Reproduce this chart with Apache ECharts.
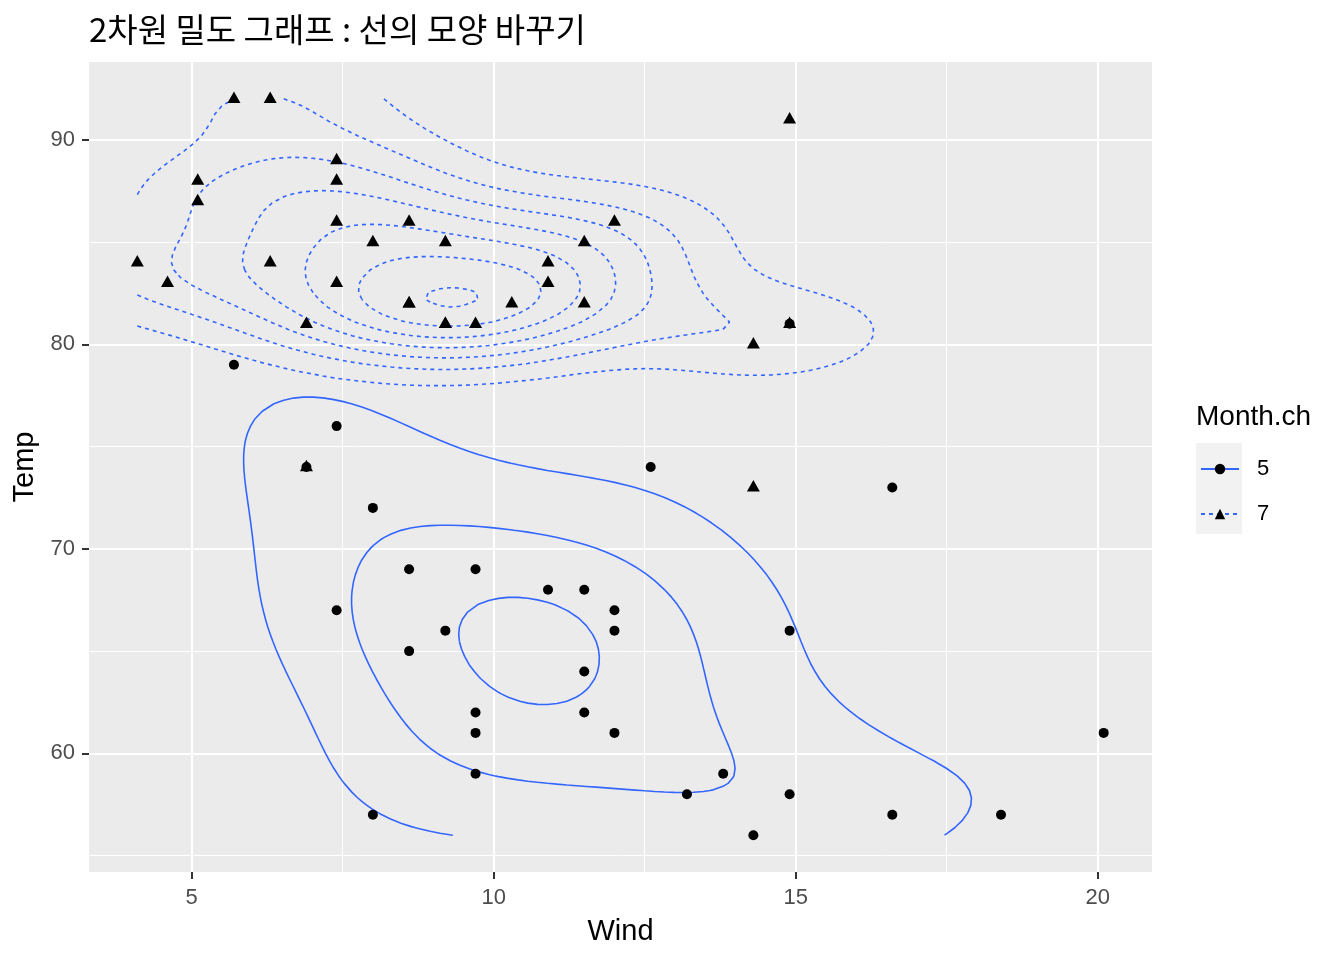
<!DOCTYPE html>
<html><head><meta charset="utf-8">
<script src="https://cdn.jsdelivr.net/npm/echarts@6/dist/echarts.min.js"></script>
<style>html,body{margin:0;padding:0;background:#fff}#c{width:1344px;height:960px}</style>
</head><body><div id="c"></div>
<script>
// airquality: Month 5 and Month 7
const mayWind = [7.4, 8.0, 12.6, 11.5, 14.3, 14.9, 8.6, 13.8, 20.1, 8.6, 6.9, 9.7, 9.2, 10.9, 13.2, 11.5, 12.0, 18.4, 11.5, 9.7, 9.7, 16.6, 9.7, 12.0, 16.6, 14.9, 8.0, 12.0, 14.9, 5.7, 7.4];
const mayTemp = [67, 72, 74, 62, 56, 66, 65, 59, 61, 69, 74, 69, 66, 68, 58, 64, 66, 57, 68, 62, 59, 73, 61, 61, 57, 58, 57, 67, 81, 79, 76];
const julWind = [4.1, 9.2, 9.2, 10.9, 4.6, 10.9, 5.1, 6.3, 5.7, 7.4, 8.6, 14.3, 14.9, 14.9, 14.3, 6.9, 10.3, 6.3, 5.1, 11.5, 6.9, 9.7, 11.5, 8.6, 8.0, 8.6, 12.0, 7.4, 7.4, 7.4, 9.2];
const julTemp = [84, 85, 81, 84, 83, 83, 88, 92, 92, 89, 82, 73, 81, 91, 80, 81, 82, 84, 87, 85, 74, 81, 82, 86, 85, 82, 86, 88, 86, 83, 81];
const groupNames = ['5', '7'];
const xTicks = [5, 10, 15, 20];
const yTicks = [60, 70, 80, 90];
const xMinor = [7.5, 12.5, 17.5];
const yMinor = [55, 65, 75, 85];
const titleText = '2차원 밀도 그래프 : 선의 모양 바꾸기';
const legendTitle = 'Month.ch';

// ---- 2D kernel density (as MASS::kde2d with bandwidth.nrd, used by stat_density_2d) ----
function quantile7(arr, p) {
  const s = arr.slice().sort((a, b) => a - b);
  const h = (s.length - 1) * p, lo = Math.floor(h);
  const hi = Math.min(lo + 1, s.length - 1);
  return s[lo] + (h - lo) * (s[hi] - s[lo]);
}
function sd(a) {
  const m = a.reduce((s, v) => s + v, 0) / a.length;
  return Math.sqrt(a.reduce((s, v) => s + (v - m) * (v - m), 0) / (a.length - 1));
}
function bwNrd(x) {
  const h = (quantile7(x, 0.75) - quantile7(x, 0.25)) / 1.34;
  return 4 * 1.06 * Math.min(sd(x), h) * Math.pow(x.length, -0.2);
}
function kde2d(x, y, lims, n) {
  const h1 = bwNrd(x) / 4, h2 = bwNrd(y) / 4;
  const gx = [], gy = [];
  for (let i = 0; i < n; i++) {
    gx.push(lims[0] + (lims[1] - lims[0]) * i / (n - 1));
    gy.push(lims[2] + (lims[3] - lims[2]) * i / (n - 1));
  }
  const N = x.length, c = 1 / Math.sqrt(2 * Math.PI);
  const ax = gx.map(g => x.map(v => c * Math.exp(-0.5 * ((g - v) / h1) ** 2)));
  const ay = gy.map(g => y.map(v => c * Math.exp(-0.5 * ((g - v) / h2) ** 2)));
  const z = [];
  for (let i = 0; i < n; i++) {
    const row = [];
    for (let j = 0; j < n; j++) {
      let s = 0;
      for (let k = 0; k < N; k++) s += ax[i][k] * ay[j][k];
      row.push(s / (N * h1 * h2));
    }
    z.push(row);
  }
  return { gx, gy, z };
}
function rPretty(lo, up, ndiv) {
  const h = 1.5, h5 = 0.5 + 1.5 * h, eps = 1e-10;
  const cell = (up - lo) / ndiv;
  const base = Math.pow(10, Math.floor(Math.log10(cell)));
  let unit = base, ns;
  if ((ns = 2 * base) - cell < h * (cell - unit)) {
    unit = ns;
    if ((ns = 5 * base) - cell < h5 * (cell - unit)) {
      unit = ns;
      if ((ns = 10 * base) - cell < h * (cell - unit)) unit = ns;
    }
  }
  let a = Math.floor(lo / unit + eps), b = Math.ceil(up / unit - eps);
  while (a * unit > lo + eps * unit) a--;
  while (b * unit < up - eps * unit) b++;
  const out = [];
  for (let k = a; k <= b; k++) out.push(k * unit);
  return out;
}
function isolines(gx, gy, z, L) {
  const n = gx.length, m = gy.length;
  const pts = {}, adj = {}, segs = [];
  function edge(t, i, j) {
    const key = t + ',' + i + ',' + j;
    if (!(key in pts)) {
      const i2 = t === 'H' ? i + 1 : i, j2 = t === 'H' ? j : j + 1;
      const v1 = z[i][j], v2 = z[i2][j2];
      const f = (L - v1) / (v2 - v1);
      pts[key] = [gx[i] + (gx[i2] - gx[i]) * f, gy[j] + (gy[j2] - gy[j]) * f];
      adj[key] = [];
    }
    return key;
  }
  function add(k1, k2) { const id = segs.length; segs.push([k1, k2]); adj[k1].push(id); adj[k2].push(id); }
  for (let i = 0; i < n - 1; i++) for (let j = 0; j < m - 1; j++) {
    const a = z[i][j], b = z[i + 1][j], c = z[i + 1][j + 1], d = z[i][j + 1];
    const A = a >= L, B = b >= L, C = c >= L, D = d >= L;
    const idx = (A ? 1 : 0) | (B ? 2 : 0) | (C ? 4 : 0) | (D ? 8 : 0);
    if (idx === 0 || idx === 15) continue;
    const eB = () => edge('H', i, j), eR = () => edge('V', i + 1, j), eT = () => edge('H', i, j + 1), eL = () => edge('V', i, j);
    if (idx === 5 || idx === 10) {
      const cen = (a + b + c + d) / 4 >= L;
      if (idx === 5) { if (cen) { add(eB(), eR()); add(eT(), eL()); } else { add(eB(), eL()); add(eR(), eT()); } }
      else { if (cen) { add(eL(), eB()); add(eR(), eT()); } else { add(eB(), eR()); add(eT(), eL()); } }
      continue;
    }
    const cr = [];
    if (A !== B) cr.push(eB());
    if (B !== C) cr.push(eR());
    if (C !== D) cr.push(eT());
    if (D !== A) cr.push(eL());
    if (cr.length === 2) add(cr[0], cr[1]);
  }
  const used = new Array(segs.length).fill(false), chains = [];
  function walk(s, key) {
    const chain = [pts[key]];
    while (s !== undefined && !used[s]) {
      used[s] = true;
      const other = segs[s][0] === key ? segs[s][1] : segs[s][0];
      chain.push(pts[other]);
      key = other;
      s = adj[key].find(t => !used[t]);
    }
    return chain;
  }
  for (const key in adj) if (adj[key].length === 1 && !used[adj[key][0]]) chains.push(walk(adj[key][0], key));
  for (let s = 0; s < segs.length; s++) if (!used[s]) chains.push(walk(s, segs[s][0]));
  return chains;
}

const allWind = mayWind.concat(julWind), allTemp = mayTemp.concat(julTemp);
const lims = [Math.min(...allWind), Math.max(...allWind), Math.min(...allTemp), Math.max(...allTemp)];
const dens = [kde2d(mayWind, mayTemp, lims, 100), kde2d(julWind, julTemp, lims, 100)];
let zmin = Infinity, zmax = -Infinity;
dens.forEach(d => d.z.forEach(r => r.forEach(v => { if (v < zmin) zmin = v; if (v > zmax) zmax = v; })));
const breaks = rPretty(zmin, zmax, 10);

const contourSeries = [];
dens.forEach((d, gi) => {
  breaks.forEach(L => {
    isolines(d.gx, d.gy, d.z, L).forEach(ch => {
      contourSeries.push({
        type: 'line', name: groupNames[gi], data: ch, showSymbol: false,
        symbol: gi === 0 ? 'circle' : 'triangle', symbolSize: 9,
        lineStyle: { color: '#3366FF', width: 1.6, type: gi === 0 ? 'solid' : [4, 4] },
        itemStyle: { color: '#000000' }, z: 2, silent: true, animation: false
      });
    });
  });
});

const gridMarks = [];
xTicks.forEach(v => gridMarks.push({ xAxis: v, lineStyle: { width: 2 } }));
xMinor.forEach(v => gridMarks.push({ xAxis: v, lineStyle: { width: 1 } }));
yTicks.forEach(v => gridMarks.push({ yAxis: v, lineStyle: { width: 2 } }));
yMinor.forEach(v => gridMarks.push({ yAxis: v, lineStyle: { width: 1 } }));

const font = 'Liberation Sans, Arial, sans-serif';
const chart = echarts.init(document.getElementById('c'), null, { renderer: 'canvas' });
chart.setOption({
  animation: false,
  backgroundColor: '#FFFFFF',
  title: [
    { text: titleText, left: 89, top: 13, padding: 0, textStyle: { fontFamily: 'Noto Sans CJK KR', fontSize: 33, fontWeight: 'normal', color: '#000', lineHeight: 33 } },
    { text: legendTitle, left: 1196, top: 403, padding: 0, textStyle: { fontFamily: font, fontSize: 28, fontWeight: 'normal', color: '#000', lineHeight: 28 } }
  ],
  graphic: [{ type: 'rect', z: 0, shape: { x: 1196, y: 443, width: 46, height: 91 }, style: { fill: '#F2F2F2' } }],
  legend: {
    data: groupNames, orient: 'vertical', left: 1200, top: 458, padding: 0,
    itemWidth: 38, itemHeight: 13, itemGap: 23,
    itemStyle: { color: '#000000' },
    lineStyle: { width: 2 },
    textStyle: { fontFamily: font, fontSize: 22, color: '#000', padding: [0, 0, 0, 13] },
    selectedMode: false
  },
  grid: { left: 89, right: 192, top: 62, bottom: 88, show: true, backgroundColor: '#EBEBEB', borderWidth: 0 },
  xAxis: {
    type: 'value', min: 3.3, max: 20.9,
    splitLine: { show: false }, axisLine: { show: false },
    axisTick: { show: true, customValues: xTicks, length: 7, lineStyle: { color: '#333333', width: 2 } },
    axisLabel: { customValues: xTicks, fontFamily: font, fontSize: 22, color: '#4D4D4D', margin: 15 },
    name: 'Wind', nameLocation: 'middle', nameGap: 45,
    nameTextStyle: { fontFamily: font, fontSize: 29, color: '#000' }
  },
  yAxis: {
    type: 'value', min: 54.2, max: 93.8,
    splitLine: { show: false }, axisLine: { show: false },
    axisTick: { show: true, customValues: yTicks, length: 7, lineStyle: { color: '#333333', width: 2 } },
    axisLabel: { customValues: yTicks, fontFamily: font, fontSize: 22, color: '#4D4D4D', margin: 14 },
    name: 'Temp', nameLocation: 'middle', nameGap: 44,
    nameTextStyle: { fontFamily: font, fontSize: 29, color: '#000' }
  },
  series: [
    {
      type: 'scatter', name: 'pts5', data: mayWind.map((w, i) => [w, mayTemp[i]]),
      symbol: 'circle', symbolSize: 10, itemStyle: { color: '#000', opacity: 1 }, z: 3, silent: true,
      markLine: { z: 1, silent: true, symbol: 'none', animation: false, label: { show: false },
        lineStyle: { color: '#FFFFFF', type: 'solid' }, emphasis: { disabled: true }, data: gridMarks }
    },
    {
      type: 'scatter', name: 'pts7', data: julWind.map((w, i) => [w, julTemp[i]]),
      symbol: 'triangle', symbolSize: [13, 11.5], symbolOffset: [0, -1.6],
      itemStyle: { color: '#000', opacity: 1 }, z: 3, silent: true
    }
  ].concat(contourSeries)
});
</script>
</body></html>
